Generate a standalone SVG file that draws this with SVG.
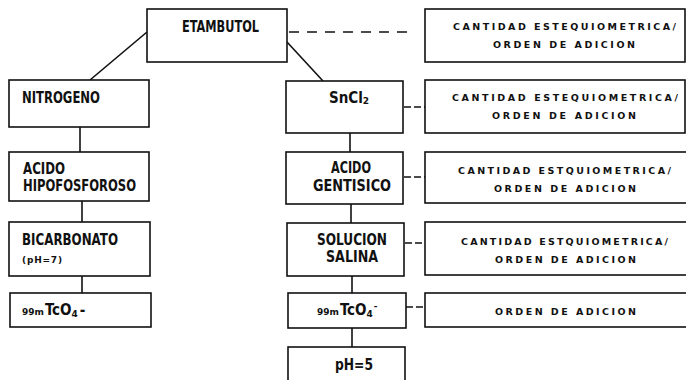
<svg xmlns="http://www.w3.org/2000/svg" width="686" height="380" viewBox="0 0 686 380">
<style>
.box{fill:#fff;stroke:#111;stroke-width:1.6}
.lbl{font-family:"DejaVu Sans Condensed","DejaVu Sans",sans-serif;font-stretch:condensed;font-weight:bold;font-size:15px;fill:#111}
.sm{font-family:"DejaVu Sans","Liberation Sans",sans-serif;font-weight:bold;font-size:9.5px;fill:#111}
.tiny{font-family:"DejaVu Sans","Liberation Sans",sans-serif;font-weight:bold;font-size:9px;fill:#111}
.ln{stroke:#111;stroke-width:1.6;fill:none}
.dash{stroke:#111;stroke-width:1.6;fill:none;stroke-dasharray:10 8}
.sdash{stroke:#111;stroke-width:1.6;fill:none;stroke-dasharray:7 3}
</style>
<rect width="686" height="380" fill="#fff"/>
<g id="connectors">
<line class="ln" x1="147" y1="32" x2="90" y2="80"/>
<line class="ln" x1="287" y1="42" x2="323" y2="81"/>
<line class="dash" x1="289" y1="32" x2="408" y2="32"/>
<line class="ln" x1="80" y1="127" x2="80" y2="152"/>
<line class="ln" x1="82" y1="201" x2="82" y2="222"/>
<line class="ln" x1="82" y1="276" x2="82" y2="293"/>
<line class="ln" x1="350" y1="133" x2="350" y2="152"/>
<line class="ln" x1="351" y1="204" x2="351" y2="223"/>
<line class="ln" x1="352" y1="276" x2="352" y2="293"/>
<line class="ln" x1="352" y1="328" x2="352" y2="347"/>
<line class="sdash" x1="404" y1="107" x2="425" y2="107"/>
<line class="sdash" x1="404" y1="177" x2="425" y2="177"/>
<line class="sdash" x1="405" y1="243" x2="425" y2="243"/>
<line class="sdash" x1="406" y1="307" x2="425" y2="307"/>
</g>
<g id="etambutol">
<rect class="box" x="147" y="9" width="140" height="53"/>
<text class="lbl" x="182" y="32" textLength="77" lengthAdjust="spacingAndGlyphs">ETAMBUTOL</text>
</g>
<g id="nitrogeno">
<rect class="box" x="9" y="80" width="140" height="47"/>
<text class="lbl" x="22" y="103" textLength="78" lengthAdjust="spacingAndGlyphs">NITROGENO</text>
</g>
<g id="acido-hipofosforoso">
<rect class="box" x="9" y="152" width="140" height="49"/>
<text class="lbl" x="23" y="174" textLength="42" lengthAdjust="spacingAndGlyphs">ACIDO</text>
<text class="lbl" x="23" y="191" textLength="113" lengthAdjust="spacingAndGlyphs">HIPOFOSFOROSO</text>
</g>
<g id="bicarbonato">
<rect class="box" x="9" y="222" width="141" height="54"/>
<text class="lbl" x="22" y="245" textLength="96" lengthAdjust="spacingAndGlyphs">BICARBONATO</text>
<text class="tiny" x="22" y="263" textLength="40" lengthAdjust="spacing">(pH=7)</text>
</g>
<g id="tco4-left">
<rect class="box" x="10" y="293" width="141" height="34"/>
<text x="22" y="315"><tspan class="tiny">99m</tspan><tspan class="lbl" dx="1">TcO</tspan><tspan class="tiny" dy="2">4</tspan><tspan class="lbl" dy="-2" dx="2">-</tspan></text>
</g>
<g id="sncl2">
<rect class="box" x="286" y="81" width="117" height="52"/>
<text x="329" y="103"><tspan class="lbl">SnCl</tspan><tspan class="tiny" dy="1">2</tspan></text>
</g>
<g id="acido-gentisico">
<rect class="box" x="286" y="152" width="117" height="52"/>
<text class="lbl" x="331" y="173" textLength="40" lengthAdjust="spacingAndGlyphs">ACIDO</text>
<text class="lbl" x="313" y="191" textLength="78" lengthAdjust="spacingAndGlyphs">GENTISICO</text>
</g>
<g id="solucion-salina">
<rect class="box" x="287" y="223" width="117" height="53"/>
<text class="lbl" x="317" y="245" textLength="70" lengthAdjust="spacingAndGlyphs">SOLUCION</text>
<text class="lbl" x="326" y="262" textLength="52" lengthAdjust="spacingAndGlyphs">SALINA</text>
</g>
<g id="tco4-right">
<rect class="box" x="288" y="293" width="118" height="35"/>
<text x="317" y="315"><tspan class="tiny">99m</tspan><tspan class="lbl" dx="1">TcO</tspan><tspan class="tiny" dy="2">4</tspan><tspan class="tiny" dy="-8" dx="1">-</tspan></text>
</g>
<g id="ph5">
<rect class="box" x="288" y="347" width="117" height="40"/>
<text class="lbl" x="335" y="370" textLength="38" lengthAdjust="spacingAndGlyphs">pH=5</text>
</g>
<g id="note1">
<rect class="box" x="425" y="9" width="260" height="53"/>
<text class="sm" x="453" y="30" textLength="223" lengthAdjust="spacing">CANTIDAD ESTEQUIOMETRICA/</text>
<text class="sm" x="493" y="48" textLength="142" lengthAdjust="spacing">ORDEN DE ADICION</text>
</g>
<g id="note2">
<rect class="box" x="425" y="80" width="260" height="53"/>
<text class="sm" x="452" y="101" textLength="226" lengthAdjust="spacing">CANTIDAD ESTEQUIOMETRICA/</text>
<text class="sm" x="492" y="119" textLength="144" lengthAdjust="spacing">ORDEN DE ADICION</text>
</g>
<g id="note3">
<rect class="box" x="425" y="152" width="270" height="51"/>
<text class="sm" x="458" y="174" textLength="213" lengthAdjust="spacing">CANTIDAD ESTQUIOMETRICA/</text>
<text class="sm" x="494" y="192" textLength="142" lengthAdjust="spacing">ORDEN DE ADICION</text>
</g>
<g id="note4">
<rect class="box" x="425" y="222" width="270" height="53"/>
<text class="sm" x="461" y="245" textLength="207" lengthAdjust="spacing">CANTIDAD ESTQUIOMETRICA/</text>
<text class="sm" x="495" y="263" textLength="141" lengthAdjust="spacing">ORDEN DE ADICION</text>
</g>
<g id="note5">
<rect class="box" x="425" y="293" width="270" height="34"/>
<text class="sm" x="495" y="315" textLength="141" lengthAdjust="spacing">ORDEN DE ADICION</text>
</g>
</svg>
